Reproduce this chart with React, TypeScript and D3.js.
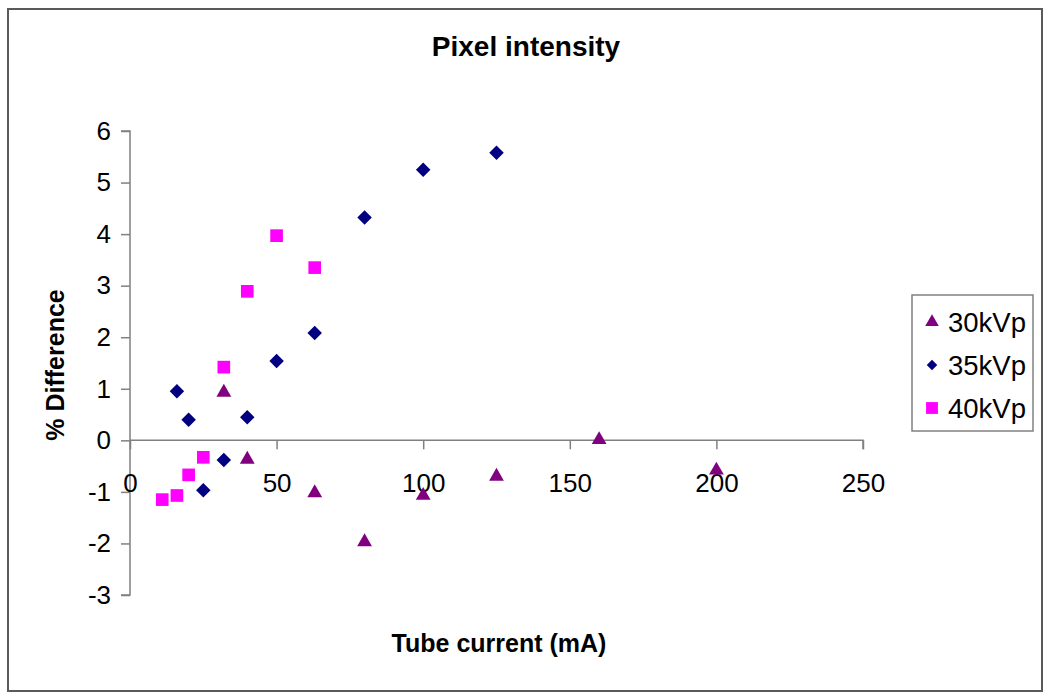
import * as d3 from "d3";
import { useEffect, useRef } from "react";

// tube current (mA) and % difference per series
const x30 = [32, 40, 63, 80, 100, 125, 160, 200];
const y30 = [0.95, -0.35, -1.0, -1.95, -1.05, -0.68, 0.03, -0.56];

const x35 = [16, 20, 25, 32, 40, 50, 63, 80, 100, 125];
const y35 = [0.95, 0.4, -0.97, -0.38, 0.45, 1.54, 2.08, 4.32, 5.25, 5.58];

const x40 = [11, 16, 20, 25, 32, 40, 50, 63];
const y40 = [-1.15, -1.07, -0.67, -0.33, 1.42, 2.89, 3.97, 3.35];

const seriesNames = ["30kVp", "35kVp", "40kVp"];
const xTicks = [0, 50, 100, 150, 200, 250];
const yTicks = [-3, -2, -1, 0, 1, 2, 3, 4, 5, 6];

const FONT = "'Liberation Sans', Arial, sans-serif";

const App = () => {
  const svgRef = useRef<SVGSVGElement | null>(null);

  useEffect(() => {
    const svg = d3.select(svgRef.current);
    svg.selectAll("*").remove();

    const x = d3.scaleLinear().domain([0, 250]).range([130, 863]);
    const y = d3.scaleLinear().domain([-3, 6]).range([595, 131]);
    const fmt = (d: any) => String(d); // plain hyphen minus like excel

    // outer frame
    svg
      .append("rect")
      .attr("x", 8)
      .attr("y", 9)
      .attr("width", 1034)
      .attr("height", 682)
      .attr("fill", "white")
      .attr("stroke", "#5a5a5a")
      .attr("stroke-width", 2);

    // title
    svg
      .append("text")
      .attr("x", 526)
      .attr("y", 56)
      .attr("text-anchor", "middle")
      .attr("font-family", FONT)
      .attr("font-weight", "bold")
      .attr("font-size", 28)
      .text("Pixel intensity");

    // y axis
    const yAxis = d3
      .axisLeft(y)
      .tickValues(yTicks)
      .tickSize(9)
      .tickSizeOuter(9)
      .tickPadding(10)
      .tickFormat(fmt);
    const gy = svg.append("g").attr("transform", `translate(${x(0)},0)`).call(yAxis);

    // x axis crossing at y = 0, labels sit below
    const xAxis = d3
      .axisBottom(x)
      .tickValues(xTicks)
      .tickSize(9)
      .tickSizeOuter(9)
      .tickPadding(24)
      .tickFormat(fmt);
    const gx = svg.append("g").attr("transform", `translate(0,${y(0)})`).call(xAxis);

    [gx, gy].forEach((g) => {
      g.select(".domain").attr("stroke", "#808080").attr("stroke-width", 1.5);
      g.selectAll(".tick line").attr("stroke", "#808080").attr("stroke-width", 1.5);
      g.selectAll(".tick text")
        .attr("font-family", FONT)
        .attr("font-size", 26)
        .attr("fill", "black");
    });
    gy.select(".domain").attr("d", `M-9,${y(6)}H0V${y(-3)}H-9`);
    gx.select(".domain").attr("d", `M${x(0)},0H${x(250)}V9`);
    gx.selectAll(".tick text").attr("dy", "0.71em");

    // axis titles
    svg
      .append("text")
      .attr("x", 499)
      .attr("y", 652)
      .attr("text-anchor", "middle")
      .attr("font-family", FONT)
      .attr("font-weight", "bold")
      .attr("font-size", 25)
      .text("Tube current (mA)");

    svg
      .append("text")
      .attr("transform", "translate(64,365) rotate(-90)")
      .attr("text-anchor", "middle")
      .attr("font-family", FONT)
      .attr("font-weight", "bold")
      .attr("font-size", 25)
      .text("% Difference");

    const tri = d3.symbol().type(d3.symbolTriangle).size(95);
    const sq = d3.symbol().type(d3.symbolSquare).size(160);
    const dia = d3.symbol().type(d3.symbolSquare).size(105); // rotated 45deg

    const series = [
      { name: seriesNames[0], xs: x30, ys: y30, color: "#800080", path: tri(), dy: 1, rot: 0 },
      { name: seriesNames[1], xs: x35, ys: y35, color: "#000080", path: dia(), dy: 0, rot: 45 },
      { name: seriesNames[2], xs: x40, ys: y40, color: "#FF00FF", path: sq(), dy: 0, rot: 0 },
    ];

    // draw 40, 35 then 30 so triangles sit on top
    [2, 1, 0].forEach((i) => {
      const s = series[i];
      svg
        .append("g")
        .selectAll("path")
        .data(s.xs.map((v, j) => [v, s.ys[j]]))
        .enter()
        .append("path")
        .attr("d", s.path)
        .attr("transform", (d) => `translate(${x(d[0])},${y(d[1]) + s.dy}) rotate(${s.rot})`)
        .attr("fill", s.color);
    });

    // legend
    const legend = svg.append("g");
    legend
      .append("rect")
      .attr("x", 912)
      .attr("y", 295)
      .attr("width", 121)
      .attr("height", 136)
      .attr("fill", "white")
      .attr("stroke", "#808080")
      .attr("stroke-width", 1.5);

    const legendPaths = [
      d3.symbol().type(d3.symbolTriangle).size(80)(),
      d3.symbol().type(d3.symbolSquare).size(55)(),
      d3.symbol().type(d3.symbolSquare).size(140)(),
    ];

    const rows = legend
      .selectAll(".row")
      .data(series)
      .enter()
      .append("g")
      .attr("class", "row")
      .attr("transform", (d, i) => `translate(932,${322 + i * 43})`);

    rows
      .append("path")
      .attr("d", (d, i) => legendPaths[i])
      .attr("transform", (d) => `rotate(${d.rot})`)
      .attr("fill", (d) => d.color);

    rows
      .append("text")
      .attr("x", 16)
      .attr("dy", "0.36em")
      .attr("font-family", FONT)
      .attr("font-size", 27.5)
      .text((d) => d.name);
  }, []);

  return (
    <div>
      <svg
        ref={svgRef}
        width={1050}
        height={697}
        style={{ position: "absolute", left: 0, top: 0, background: "white" }}
      ></svg>
    </div>
  );
};

export default App;
